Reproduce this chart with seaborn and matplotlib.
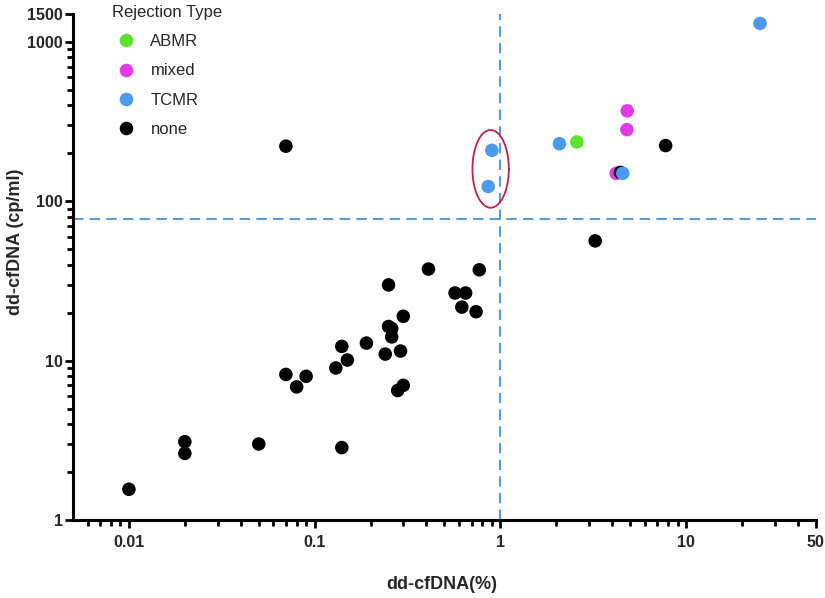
import numpy as np
import pandas as pd
import matplotlib
matplotlib.use('Agg')
import matplotlib.pyplot as plt
import seaborn as sns

# ---- data ----
abmr_pct = [2.58]
abmr_cp = [236]

mixed_pct = [4.82, 4.8, 4.2]
mixed_cp = [370, 282, 150]

none_pct = [0.01, 0.02, 0.02, 0.05, 0.14, 0.07, 0.09, 0.08, 0.13, 0.15,
            0.14, 0.19, 0.24, 0.29, 0.26, 0.25, 0.26, 0.30, 0.25, 0.41,
            0.77, 0.57, 0.65, 0.62, 0.74, 0.28, 0.30, 0.07, 7.76, 4.43, 3.24]
none_cp = [1.56, 3.1, 2.62, 3.0, 2.85, 8.2, 7.98, 6.85, 9.0, 10.1,
           12.3, 12.9, 11.0, 11.5, 14.1, 16.4, 15.9, 19.0, 29.9, 37.6,
           37.2, 26.6, 26.6, 21.7, 20.3, 6.5, 7.0, 222, 224, 152, 56.5]

tcmr_pct = [0.9, 0.86, 2.08, 4.56, 25]
tcmr_cp = [209, 124, 230, 150, 1309]

hue_order = ['ABMR', 'mixed', 'TCMR', 'none']
palette = {'ABMR': '#5BE32C', 'mixed': '#E23AE6', 'TCMR': '#4A9AF0', 'none': '#000000'}

x_ticks = [0.01, 0.1, 1, 10, 50]
x_ticklabels = ['0.01', '0.1', '1', '10', '50']
y_ticks = [1, 10, 100, 1000, 1500]
y_ticklabels = ['1', '10', '100', '1000', '1500']

pct_cut = 1
cp_cut = 78

# draw order: mixed under none, none under TCMR
df = pd.concat([
    pd.DataFrame({'pct': abmr_pct, 'cp': abmr_cp, 'type': 'ABMR'}),
    pd.DataFrame({'pct': mixed_pct, 'cp': mixed_cp, 'type': 'mixed'}),
    pd.DataFrame({'pct': none_pct, 'cp': none_cp, 'type': 'none'}),
    pd.DataFrame({'pct': tcmr_pct, 'cp': tcmr_cp, 'type': 'TCMR'}),
], ignore_index=True)

sns.set_style('ticks')
plt.rcParams['font.family'] = ['Liberation Sans', 'DejaVu Sans']

fig = plt.figure(figsize=(8.25, 5.98), dpi=100)
ax = fig.add_axes([0.0885, 0.1304, 0.9005, 0.8462])

sns.scatterplot(data=df, x='pct', y='cp', hue='type', hue_order=hue_order,
                palette=palette, s=95, linewidth=0, ax=ax, zorder=3)

ax.set_xscale('log')
ax.set_yscale('log')
ax.set_xlim(0.005, 50)
ax.set_ylim(1, 1500)

# threshold lines
ax.axvline(pct_cut, color='#5B9BD5', lw=1.5, ls=(0, (5, 3)), zorder=2)
ax.axhline(cp_cut, color='#5B9BD5', lw=1.5, ls=(0, (5, 3)), zorder=2)

# red ellipse around the two TCMR points near 1 %
t = np.linspace(0, 2 * np.pi, 200)
cx, cy = np.log10(0.886), np.log10(160)
ax.plot(10 ** (cx + 0.098 * np.cos(t)), 10 ** (cy + 0.244 * np.sin(t)),
        color='#C3204B', lw=1.3, zorder=4)

# ticks
ax.set_xticks(x_ticks)
ax.set_xticklabels(x_ticklabels)
x_minor = [v * d for d in [0.001, 0.01, 0.1, 1, 10] for v in range(2, 10)]
ax.set_xticks([v for v in x_minor if 0.005 < v < 50 and v not in x_ticks], minor=True)
ax.set_yticks(y_ticks)
ax.set_yticklabels(y_ticklabels)
y_minor = [v * d for d in [1, 10, 100] for v in range(2, 10)]
ax.set_yticks(y_minor, minor=True)
ax.yaxis.set_minor_formatter(matplotlib.ticker.NullFormatter())
ax.xaxis.set_minor_formatter(matplotlib.ticker.NullFormatter())

ax.tick_params(axis='both', which='major', length=5.8, width=2, direction='out',
               labelsize=11.5, color='black')
ax.tick_params(axis='both', which='minor', length=4.4, width=2, direction='out', color='black')
ax.tick_params(axis='x', which='major', pad=5)
ax.tick_params(axis='y', which='major', pad=1.5)
for lab in ax.get_xticklabels() + ax.get_yticklabels():
    lab.set_fontweight('bold')

for side in ['left', 'bottom']:
    ax.spines[side].set_linewidth(2.2)
    ax.spines[side].set_color('black')
sns.despine(ax=ax)

ax.set_xlabel('dd-cfDNA(%)', fontsize=13, fontweight='bold')
ax.set_ylabel('dd-cfDNA (cp/ml)', fontsize=13, fontweight='bold')
ax.xaxis.set_label_coords(0.4965, -0.128)
ax.xaxis.label.set_va('center')
ax.yaxis.set_label_coords(-0.078, 0.549)
ax.yaxis.label.set_va('center')

leg = ax.legend(title='Rejection Type', frameon=False, loc='upper left',
                bbox_to_anchor=(0.032, 1.048), fontsize=12, title_fontsize=12,
                alignment='left', labelspacing=0.86, handletextpad=0.62,
                handlelength=1.7, markerscale=1.0)

fig.savefig('out.png', dpi=100)
plt.close(fig)
